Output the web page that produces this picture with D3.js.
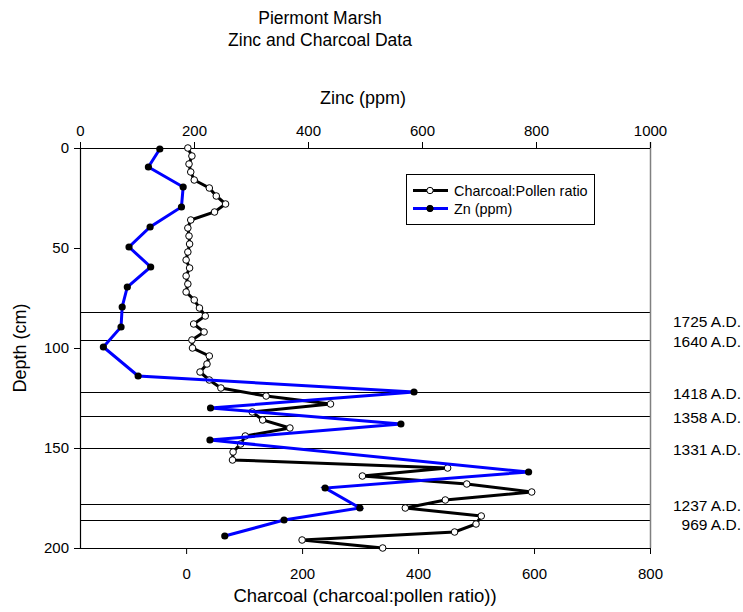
<!DOCTYPE html>
<html>
<head>
<meta charset="utf-8">
<script src="https://cdn.jsdelivr.net/npm/d3@7"></script>
<style>
  body { margin: 0; background: #fff; }
  svg { font-family: "Liberation Sans", Arial, sans-serif; }
</style>
</head>
<body>
<svg width="743" height="612"></svg>
<script>
"use strict";

// charcoal:pollen ratio, sampled every 4 cm
const charcoalDepth = [0, 4, 8, 12, 16, 20, 24, 28, 32, 36, 40, 44, 48, 52, 56, 60, 64, 68, 72, 76,
    80, 84, 88, 92, 96, 100, 104, 108, 112, 116, 120, 124, 128, 132, 136, 140, 144, 148, 152, 156,
    160, 164, 168, 172, 176, 180, 184, 188, 192, 196, 200];
const charcoalValue = [3, 10, 5, 8, 14, 40, 52, 68, 49, 8, 3, 5, 6, 3, 0, 6, 0, 3, 0, 14,
    23, 33, 13, 31, 10, 11, 40, 36, 24, 40, 60, 138, 249, 114, 132, 179, 102, 94, 81, 80,
    451, 304, 484, 596, 447, 378, 509, 500, 463, 200, 339];

// zinc (ppm)
const zincDepth = [0.5, 9.5, 19.5, 29.5, 39.5, 49.5, 59.5, 69.5, 79.5, 89.5, 99.5,
    114, 122, 130, 138, 146, 162, 170, 180, 186, 194];
const zincValue = [140, 120, 181, 178, 123, 86, 124, 83, 74, 72, 41,
    102, 586, 229, 563, 228, 787, 430, 491, 358, 254];

// dated horizons
const horizonDepth = [82, 96, 122, 134, 150, 178, 186];
const horizonLabelDepth = [86.5, 96.5, 122.5, 134.5, 150.5, 178.5, 188];
const horizonLabel = ["1725 A.D.", "1640 A.D.", "1418 A.D.", "1358 A.D.", "1331 A.D.", "1237 A.D.", "969 A.D."];

const depthTicks = [0, 50, 100, 150, 200];
const zincTicks = [0, 200, 400, 600, 800, 1000];
const charcoalTicks = [0, 200, 400, 600, 800];

const Padding = {TOP: 148, LEFT: 80, RIGHT: 93, BOTTOM: 64};

window.addEventListener("load", drawChart);

function drawChart() {
    const svg = d3.select("svg");
    const width = +svg.attr("width");
    const height = +svg.attr("height");

    const y = d3.scaleLinear()
        .domain([0, 200])
        .range([Padding.TOP, height - Padding.BOTTOM]);
    const xZinc = d3.scaleLinear()
        .domain([0, 1000])
        .range([Padding.LEFT, width - Padding.RIGHT]);
    const xChar = d3.scaleLinear()
        .domain([-183, 800])
        .range([Padding.LEFT, width - Padding.RIGHT]);

    // horizon lines
    svg.append("g").selectAll("line")
        .data(horizonDepth)
        .join("line")
        .attr("x1", Padding.LEFT)
        .attr("x2", width - Padding.RIGHT)
        .attr("y1", d => Math.round(y(d)) + 0.5)
        .attr("y2", d => Math.round(y(d)) + 0.5)
        .attr("stroke", "#000")
        .attr("stroke-width", 1);

    svg.append("g").selectAll("text")
        .data(horizonLabel)
        .join("text")
        .attr("x", 741)
        .attr("y", (d, i) => y(horizonLabelDepth[i]) + 5.5)
        .attr("text-anchor", "end")
        .attr("font-size", 15.5)
        .text(d => d);

    // right frame line
    svg.append("line")
        .attr("x1", width - Padding.RIGHT + 0.5)
        .attr("x2", width - Padding.RIGHT + 0.5)
        .attr("y1", y(0) - 6)
        .attr("y2", y(200))
        .attr("stroke", "#808080")
        .attr("stroke-width", 1.5);

    // axes
    const yAxis = svg.append("g")
        .attr("transform", `translate(${Padding.LEFT}, 0)`)
        .call(d3.axisLeft(y).tickValues(depthTicks).tickSize(6).tickPadding(5));
    const topAxis = svg.append("g")
        .attr("transform", `translate(0, ${Padding.TOP})`)
        .call(d3.axisTop(xZinc).tickValues(zincTicks).tickFormat(d3.format("d")).tickSize(6).tickPadding(6));
    const bottomAxis = svg.append("g")
        .attr("transform", `translate(0, ${height - Padding.BOTTOM})`)
        .call(d3.axisBottom(xChar).tickValues(charcoalTicks).tickSize(6).tickPadding(14));

    [yAxis, topAxis, bottomAxis].forEach(ax => {
        ax.selectAll("text").attr("font-size", 15).attr("font-family", "Liberation Sans, Arial, sans-serif").attr("fill", "#000");
        ax.selectAll("line").attr("stroke", "#000");
        ax.select(".domain").attr("stroke", "#000").attr("stroke-width", 1.2);
    });
    bottomAxis.select(".domain").attr("d", `M${Padding.LEFT},0.5H${width - Padding.RIGHT}`);
    topAxis.select(".domain").attr("d", `M${Padding.LEFT},0.5H${width - Padding.RIGHT}`);
    yAxis.select(".domain").attr("d", `M0.5,${y(0)}V${y(200)}`);

    // charcoal series
    const charData = charcoalDepth.map((d, i) => ({depth: d, value: charcoalValue[i]}));
    const zincData = zincDepth.map((d, i) => ({depth: d, value: zincValue[i]}));

    svg.append("path")
        .datum(charData)
        .attr("fill", "none")
        .attr("stroke", "#000")
        .attr("stroke-width", 3)
        .attr("stroke-linejoin", "miter")
        .attr("d", d3.line().x(d => xChar(d.value)).y(d => y(d.depth)));

    svg.append("g").selectAll("circle")
        .data(charData)
        .join("circle")
        .attr("cx", d => xChar(d.value))
        .attr("cy", d => y(d.depth))
        .attr("r", 3.3)
        .attr("fill", "#fff")
        .attr("stroke", "#000")
        .attr("stroke-width", 1);

    svg.append("path")
        .datum(zincData)
        .attr("fill", "none")
        .attr("stroke", "#0000ff")
        .attr("stroke-width", 3)
        .attr("d", d3.line().x(d => xZinc(d.value)).y(d => y(d.depth)));

    svg.append("g").selectAll("circle")
        .data(zincData)
        .join("circle")
        .attr("cx", d => xZinc(d.value))
        .attr("cy", d => y(d.depth))
        .attr("r", 3.6)
        .attr("fill", "#000");

    // legend
    const legend = svg.append("g");
    legend.append("rect")
        .attr("x", 406.5).attr("y", 174.5)
        .attr("width", 188).attr("height", 50)
        .attr("fill", "#fff").attr("stroke", "#000").attr("stroke-width", 1);
    const legendItems = [
        {label: "Charcoal:Pollen ratio", color: "#000", fill: "#fff"},
        {label: "Zn (ppm)", color: "#0000ff", fill: "#000"}
    ];
    legendItems.forEach((item, i) => {
        const ly = 190.5 + i * 18;
        legend.append("line")
            .attr("x1", 413).attr("x2", 448)
            .attr("y1", ly).attr("y2", ly)
            .attr("stroke", item.color).attr("stroke-width", 3);
        legend.append("circle")
            .attr("cx", 430).attr("cy", ly).attr("r", 3.2)
            .attr("fill", item.fill).attr("stroke", "#000").attr("stroke-width", 1);
        legend.append("text")
            .attr("x", 454).attr("y", ly + 5)
            .attr("font-size", 14.4)
            .text(item.label);
    });

    // titles
    svg.append("text")
        .attr("x", 320).attr("y", 24)
        .attr("text-anchor", "middle").attr("font-size", 17.5)
        .text("Piermont Marsh");
    svg.append("text")
        .attr("x", 320).attr("y", 46)
        .attr("text-anchor", "middle").attr("font-size", 17.5)
        .text("Zinc and Charcoal Data");
    svg.append("text")
        .attr("x", 363).attr("y", 104)
        .attr("text-anchor", "middle").attr("font-size", 18)
        .text("Zinc (ppm)");
    svg.append("text")
        .attr("x", 365).attr("y", 602)
        .attr("text-anchor", "middle").attr("font-size", 18.5)
        .text("Charcoal (charcoal:pollen ratio))");
    svg.append("text")
        .attr("transform", `translate(26 ${(y(0) + y(200)) / 2}) rotate(-90)`)
        .attr("text-anchor", "middle").attr("font-size", 18)
        .text("Depth (cm)");
}
</script>
</body>
</html>
